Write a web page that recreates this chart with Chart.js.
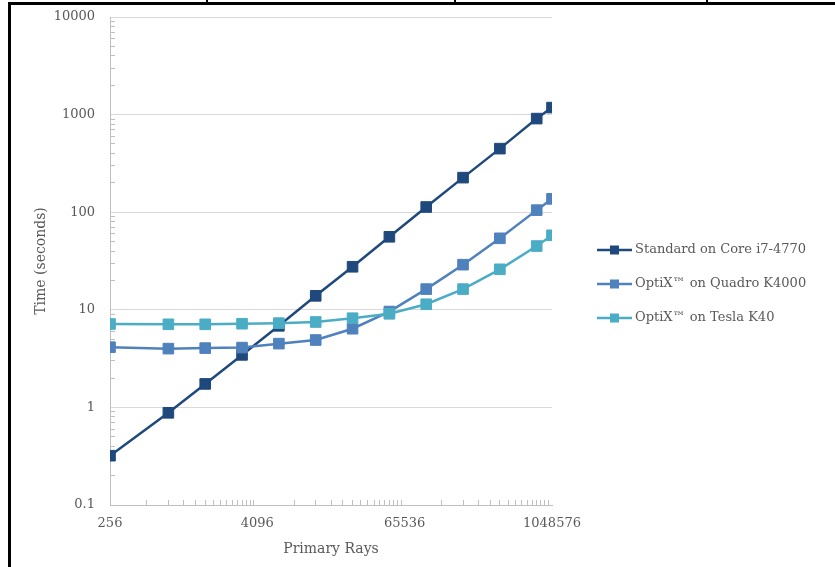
<!DOCTYPE html>
<html>
<head>
<meta charset="utf-8">
<script src="https://cdn.jsdelivr.net/npm/chart.js@4.4.1/dist/chart.umd.min.js"></script>
<style>
html,body{margin:0;padding:0;background:#fff;}
#wrap{position:relative;width:835px;height:567px;overflow:hidden;}
#grafico{position:absolute;left:0;top:0;}
.borda{position:absolute;background:#000;}
</style>
</head>
<body>
<div id="wrap">
<canvas id="grafico" width="835" height="567"></canvas>
<div class="borda" style="left:8px;top:2px;width:827px;height:3px"></div>
<div class="borda" style="left:8px;top:2px;width:3px;height:565px"></div>
<div class="borda" style="left:206px;top:0;width:2px;height:3px"></div>
<div class="borda" style="left:454px;top:0;width:2px;height:3px"></div>
<div class="borda" style="left:706px;top:0;width:2px;height:3px"></div>
</div>

<script>
// =============================
// DADOS
// =============================

const raios = [256, 768, 1536, 3072, 6144, 12288, 24576, 49152, 98304, 196608, 393216, 786432, 1048576];

const tempoCore   = [0.32, 0.88, 1.74, 3.45, 6.85, 13.9, 27.6, 56, 113, 226, 448, 910, 1180];
const tempoQuadro = [4.14, 4.0, 4.05, 4.1, 4.5, 4.9, 6.4, 9.6, 16.3, 29, 54, 105, 137];
const tempoTesla  = [7.15, 7.1, 7.1, 7.2, 7.3, 7.5, 8.2, 9.1, 11.4, 16.3, 26, 45, 58];

const nomesSeries = ["Standard on Core i7-4770", "OptiX™ on Quadro K4000", "OptiX™ on Tesla K40"];
const coresSeries = ["#1f497d", "#4f81bd", "#4bacc6"];

const rotulosX = ["256", "4096", "65536", "1048576"];
const rotulosY = ["0.1", "1", "10", "100", "1000", "10000"];

const FONTE = '"DejaVu Serif", "Liberation Serif", serif';
const CINZA_TEXTO = "#595959";


// =============================
// MARCAS DOS EIXOS
// =============================

const majorX = rotulosX.map(Number);
const majorY = rotulosY.map(Number);

let marcasX = [];
majorX.forEach((m, i) => {
marcasX.push(m);
if (i < majorX.length - 1) {
for (let k = 2; k < 16; k++) marcasX.push(m * k);
}
});

let marcasY = [];
majorY.forEach((m, i) => {
marcasY.push(m);
if (i < majorY.length - 1) {
for (let k = 2; k < 10; k++) marcasY.push(m * k);
}
});

function pontos(valores){
return raios.map((r, i) => ({ x: r, y: valores[i] }));
}

function serie(i, valores, ordem){
return {
label: nomesSeries[i],
data: pontos(valores),
borderColor: coresSeries[i],
backgroundColor: coresSeries[i],
borderWidth: 2.5,
pointStyle: "rect",
pointRadius: 7.5,
pointBorderWidth: 1,
pointBorderColor: coresSeries[i],
pointBackgroundColor: coresSeries[i],
tension: 0,
order: ordem
};
}


// =============================
// LEGENDA (lado direito)
// =============================

const legendaLateral = {
id: "legendaLateral",
afterDraw(chart){
const ctx = chart.ctx;
chart.data.datasets.forEach((ds, i) => {
const y = 250 + i * 34;
ctx.save();
ctx.strokeStyle = ds.borderColor;
ctx.lineWidth = 2.5;
ctx.beginPath();
ctx.moveTo(597, y);
ctx.lineTo(632, y);
ctx.stroke();
ctx.fillStyle = ds.backgroundColor;
ctx.fillRect(610, y - 4.5, 9, 9);
ctx.fillStyle = CINZA_TEXTO;
ctx.font = "13px " + FONTE;
ctx.textBaseline = "middle";
ctx.textAlign = "left";
ctx.fillText(ds.label, 635, y);
ctx.restore();
});
}
};


// =============================
// GRAFICO
// =============================

const ctx = document.getElementById("grafico").getContext("2d");

const chart = new Chart(ctx, {
type: "line",
data: {
datasets: [
serie(0, tempoCore, 3),
serie(1, tempoQuadro, 2),
serie(2, tempoTesla, 1)
]
},
options: {
responsive: false,
animation: false,
layout: {
padding: { left: 30, right: 283, top: 17, bottom: 6 }
},
plugins: {
legend: { display: false },
tooltip: { enabled: false }
},
scales: {
x: {
type: "logarithmic",
position: "bottom",
min: 256,
max: 1048576,
afterBuildTicks: (scale) => {
scale.ticks = marcasX.map(v => ({ value: v, major: majorX.includes(v) }));
},
afterFit: (scale) => { scale.height = 56; },
ticks: {
autoSkip: false,
maxRotation: 0,
padding: 16,
color: CINZA_TEXTO,
font: { family: FONTE, size: 13 },
callback: (value) => {
const i = majorX.indexOf(value);
return i >= 0 ? rotulosX[i] : "";
}
},
grid: {
drawOnChartArea: false,
drawTicks: true,
tickLength: -5,
color: "transparent",
tickColor: (c) => (c.tick && c.tick.major) ? "transparent" : "#bfbfbf",
tickWidth: 1
},
border: { color: "#bfbfbf", width: 1 },
title: {
display: true,
text: "Primary Rays",
color: CINZA_TEXTO,
font: { family: FONTE, size: 14 },
padding: { top: 0, bottom: 3 }
}
},
y: {
type: "logarithmic",
position: "left",
min: 0.1,
max: 10000,
afterBuildTicks: (scale) => {
scale.ticks = marcasY.map(v => ({ value: v, major: majorY.includes(v) }));
},
afterFit: (scale) => {
scale.width = 80;
scale.paddingTop = 0;
scale.paddingBottom = 0;
},
ticks: {
autoSkip: false,
padding: 20,
color: CINZA_TEXTO,
font: { family: FONTE, size: 13 },
callback: (value) => {
const i = majorY.indexOf(value);
return i >= 0 ? rotulosY[i] : "";
}
},
grid: {
drawTicks: true,
tickLength: -5,
color: (c) => (c.tick && c.tick.major) ? "#d9d9d9" : "transparent",
tickColor: (c) => (c.tick && c.tick.major) ? "transparent" : "#bfbfbf",
lineWidth: 1,
tickWidth: 1
},
border: { color: "#bfbfbf", width: 1 },
title: {
display: true,
text: "Time (seconds)",
color: CINZA_TEXTO,
font: { family: FONTE, size: 14 },
padding: { top: 3, bottom: 0 }
}
}
}
},
plugins: [legendaLateral]
});
</script>
</body>
</html>
